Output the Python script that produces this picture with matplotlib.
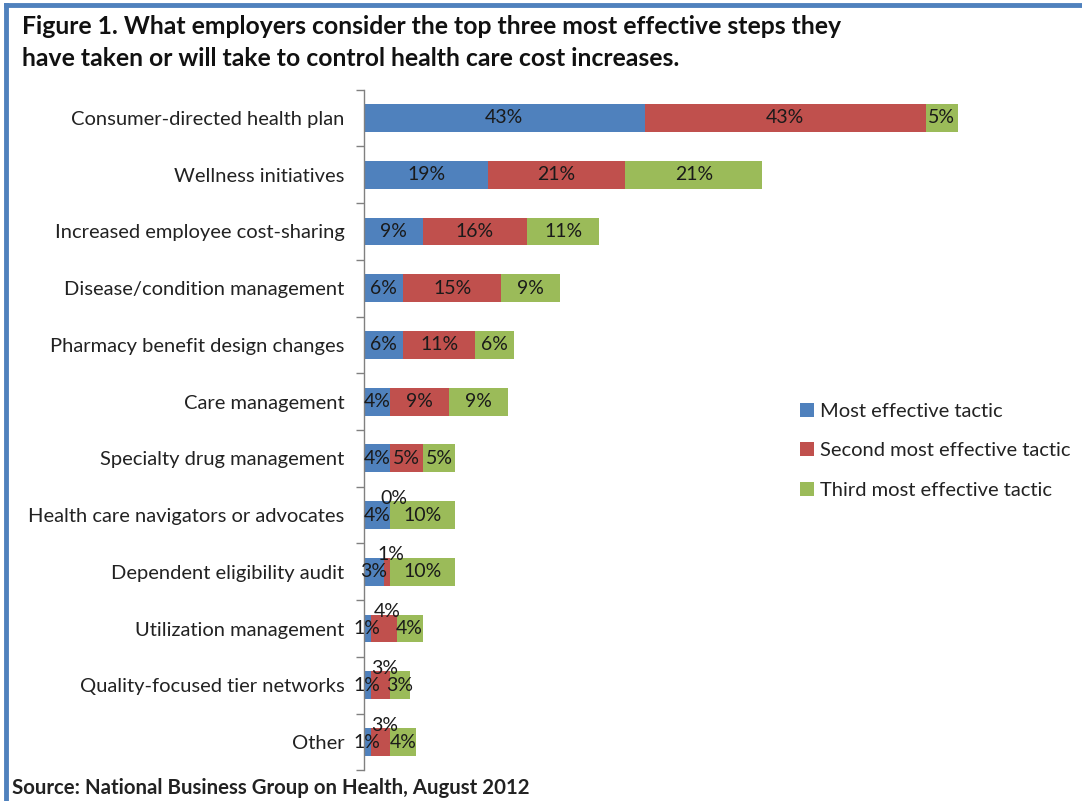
import matplotlib
matplotlib.use("Agg")
import matplotlib.pyplot as plt
from matplotlib.patches import Patch
from matplotlib.lines import Line2D
import numpy as np

plt.rcParams['font.family'] = ['Lato', 'DejaVu Sans']

categories = [
    "Consumer-directed health plan",
    "Wellness initiatives",
    "Increased employee cost-sharing",
    "Disease/condition management",
    "Pharmacy benefit design changes",
    "Care management",
    "Specialty drug management",
    "Health care navigators or advocates",
    "Dependent eligibility audit",
    "Utilization management",
    "Quality-focused tier networks",
    "Other",
]
most_effective = [43, 19, 9, 6, 6, 4, 4, 4, 3, 1, 1, 1]
second_most = [43, 21, 16, 15, 11, 9, 5, 0, 1, 4, 3, 3]
third_most = [5, 21, 11, 9, 6, 9, 5, 10, 10, 4, 3, 4]
series_names = ["Most effective tactic", "Second most effective tactic",
                "Third most effective tactic"]
colors = ["#4F81BD", "#C0504D", "#9BBB59"]

title_lines = ["Figure 1. What employers consider the top three most effective steps they",
               "have taken or will take to control health care cost increases."]
source = "Source: National Business Group on Health, August 2012"

W, H = 1082, 801
fig = plt.figure(figsize=(W / 100, H / 100), dpi=100)
fig.patch.set_facecolor("white")

# chart frame (left and top edges)
border = "#4F81BD"
fig.add_artist(Line2D([6 / W, 6 / W], [0, 1 - 5 / H], transform=fig.transFigure,
                      color=border, lw=3.5))
fig.add_artist(Line2D([6 / W, 1], [1 - 5 / H, 1 - 5 / H], transform=fig.transFigure,
                      color=border, lw=3.5))

ax_left, ax_top, ax_bottom = 364, 89.6, 770.4
px_per_pct = 6.53
xmax = 100
ax = fig.add_axes([ax_left / W, 1 - ax_bottom / H,
                   xmax * px_per_pct / W, (ax_bottom - ax_top) / H])
ax.patch.set_alpha(0)

n = len(categories)
y = np.arange(n)
series = [np.array(most_effective), np.array(second_most), np.array(third_most)]
left = np.zeros(n)
for vals, col, name in zip(series, colors, series_names):
    ax.barh(y, vals, left=left, height=0.49, color=col, label=name, zorder=2)
    for i, v in enumerate(vals):
        cx = left[i] + v / 2
        cy = y[i]
        # lift the middle label when it would collide with its neighbours
        if col == colors[1] and min(series[0][i], series[1][i]) <= 1:
            cy = y[i] - 0.3
            cx = left[i] + v / 2 + 0.6
        ax.text(cx, cy, f"{v}%", ha="center", va="center", fontsize=14,
                color="#1a1a1a", zorder=3)
    left = left + vals

ax.set_xlim(0, xmax)
ax.set_ylim(n - 0.5, -0.5)
ax.set_yticks(y)
ax.set_yticklabels(categories, fontsize=14.5, color="#222222")
ax.set_yticks(np.arange(-0.5, n, 1.0), minor=True)
ax.tick_params(axis="y", which="major", length=0, pad=14)
ax.tick_params(axis="y", which="minor", length=6, width=1, color="#808080")
ax.set_xticks([])
for s in ["top", "right", "bottom"]:
    ax.spines[s].set_visible(False)
ax.spines["left"].set_color("#808080")
ax.spines["left"].set_linewidth(1)

handles = [Patch(facecolor=c, edgecolor="none") for c in colors]
fig.legend(handles, series_names, loc="upper left",
           bbox_to_anchor=(790 / W, 1 - 393 / H), frameon=False,
           fontsize=14.5, handlelength=0.7, handleheight=0.7, handletextpad=0.3,
           labelspacing=1.1, labelcolor="#222222", borderpad=0)

for line, base in zip(title_lines, [34, 66]):
    fig.text(22 / W, 1 - base / H, line, ha="left", va="baseline", fontsize=17.8,
             fontweight="bold", color="#111111")
fig.text(12 / W, 1 - 794 / H, source, ha="left", va="baseline", fontsize=14.7,
         fontweight="bold", color="#222222")

fig.savefig("out.png", dpi=100, facecolor="white")
